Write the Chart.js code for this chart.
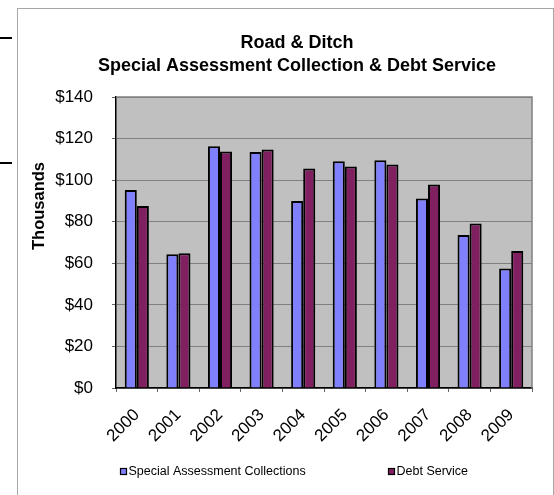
<!DOCTYPE html>
<html>
<head>
<meta charset="utf-8">
<title>Road & Ditch</title>
<script src="https://cdn.jsdelivr.net/npm/chart.js@4.4.1/dist/chart.umd.min.js"></script>
<style>
  html, body { margin: 0; padding: 0; background: #fff; }
  #frame { position: absolute; left: 17px; top: 8px; width: 535px; height: 500px; border: 1px solid #a6a6a6; }
  .stub { position: absolute; left: 0; width: 12px; height: 2px; background: #000; }
  #roadChart { position: absolute; left: 0; top: 0; }
</style>
</head>
<body>
<div class="stub" style="top:37px"></div>
<div class="stub" style="top:162px"></div>
<div id="frame"></div>
<canvas id="roadChart" width="554" height="495"></canvas>
<script>
// values in thousands of dollars
const years = ['2000', '2001', '2002', '2003', '2004', '2005', '2006', '2007', '2008', '2009'];
const collections = [95.2, 64.3, 116.3, 113.5, 90.0, 109.1, 109.6, 91.2, 73.6, 57.5];
const debtService = [87.6, 64.8, 113.8, 114.8, 105.6, 106.6, 107.5, 97.9, 79.2, 65.9];
const seriesNames = ['Special Assessment Collections', 'Debt Service'];

const fontFamily = "Arial, 'Liberation Sans', sans-serif";
Chart.defaults.font.family = fontFamily;
Chart.defaults.color = '#000';

// grey plot area with a thin frame on top and right
const plotArea = {
    id: 'plotArea',
    beforeDraw(chart) {
        const {ctx, chartArea: a} = chart;
        ctx.save();
        ctx.fillStyle = '#c0c0c0';
        ctx.fillRect(a.left, a.top, a.right - a.left, a.bottom - a.top);
        ctx.restore();
    },
    beforeDatasetsDraw(chart) {
        const {ctx, chartArea: a} = chart;
        ctx.save();
        ctx.strokeStyle = '#808080';
        ctx.lineWidth = 1.5;
        ctx.beginPath();
        ctx.moveTo(a.left, a.top);
        ctx.lineTo(a.right, a.top);
        ctx.lineTo(a.right, a.bottom);
        ctx.stroke();
        ctx.restore();
    }
};

// y title and the spread-out legend row
const legendX = [120, 388];
const extras = {
    id: 'extras',
    afterDraw(chart) {
        const ctx = chart.ctx;
        ctx.save();
        ctx.translate(39, 206);
        ctx.rotate(-Math.PI / 2);
        ctx.font = 'bold 16.5px ' + fontFamily;
        ctx.fillStyle = '#000';
        ctx.textAlign = 'center';
        ctx.textBaseline = 'middle';
        ctx.fillText('Thousands', 0, 0);
        ctx.restore();

        ctx.save();
        ctx.font = '12.5px ' + fontFamily;
        ctx.textBaseline = 'middle';
        chart.data.datasets.forEach((ds, i) => {
            const x = legendX[i], y = 471.5;
            ctx.fillStyle = ds.backgroundColor;
            ctx.fillRect(x, y - 3.5, 7, 7);
            ctx.strokeStyle = '#000';
            ctx.lineWidth = 1.2;
            ctx.strokeRect(x + 0.5, y - 3, 6, 6);
            ctx.fillStyle = '#000';
            ctx.fillText(ds.label, x + 8.5, y);
        });
        ctx.restore();
    }
};

new Chart(document.getElementById('roadChart'), {
    type: 'bar',
    data: {
        labels: years,
        datasets: [
            {
                label: seriesNames[0],
                data: collections,
                backgroundColor: '#8080ff',
                borderColor: '#000',
                borderWidth: 2
            },
            {
                label: seriesNames[1],
                data: debtService,
                backgroundColor: '#802060',
                borderColor: '#000',
                borderWidth: 2
            }
        ]
    },
    options: {
        responsive: false,
        animation: false,
        categoryPercentage: 0.58,
        barPercentage: 1.0,
        layout: {
            padding: {left: 50, right: 10, top: 10, bottom: 0}
        },
        scales: {
            x: {
                grid: {
                    drawOnChartArea: false,
                    tickLength: 4,
                    tickColor: '#666'
                },
                border: {color: '#000', width: 1.5},
                ticks: {
                    font: {size: 17},
                    minRotation: 45,
                    maxRotation: 45,
                    padding: 13
                },
                afterFit(scale) { scale.height = 107; }
            },
            y: {
                min: 0,
                max: 140,
                grid: {
                    color: '#808080',
                    tickLength: 4,
                    tickColor: '#666'
                },
                border: {color: '#000', width: 1.5},
                ticks: {
                    stepSize: 20,
                    font: {size: 17},
                    padding: 19,
                    callback: v => '$' + v
                },
                afterFit(scale) { scale.width = 66; }
            },
            // empty right-hand strip so the title centres over the whole frame
            spacer: {
                type: 'linear',
                position: 'right',
                display: true,
                grid: {display: false},
                border: {display: false},
                ticks: {display: false},
                afterFit(scale) { scale.width = 12; }
            }
        },
        plugins: {
            legend: {display: false},
            tooltip: {enabled: false},
            title: {
                display: true,
                text: ['Road & Ditch', 'Special Assessment Collection & Debt Service'],
                color: '#000',
                font: {size: 18, weight: 'bold', lineHeight: 1.25},
                padding: {top: 22, bottom: 20}
            }
        }
    },
    plugins: [plotArea, extras]
});
</script>
</body>
</html>
